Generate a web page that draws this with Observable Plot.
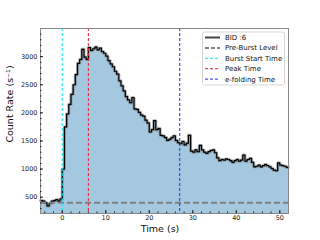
<!DOCTYPE html>
<html><head><meta charset="utf-8">
<script src="https://cdn.jsdelivr.net/npm/d3@7"></script>
<script src="https://cdn.jsdelivr.net/npm/@observablehq/plot@0.6"></script>
<style>body{margin:0;background:#fff}</style>
</head><body><div id="chart"></div>
<script>
const times = d3.range(-5, 52.01, 0.5);
const rates = [440,430,400,345,390,430,440,455,430,470,
 1000,1750,1980,2150,2330,2500,2680,2880,2950,3130,2990,2950,3160,3110,3140,3170,3120,3150,3090,3060,
 3010,2930,2870,2820,2740,2690,2570,2480,2390,2290,2230,2180,2270,2070,2060,2010,1960,1940,1870,1820,
 1660,1700,1860,1700,1720,1600,1590,1560,1510,1530,1560,1590,1510,1470,1450,1490,1430,1460,1600,1320,
 1300,1340,1310,1420,1340,1300,1280,1310,1330,1340,1290,1200,1150,1170,1160,1180,1170,1150,1120,1150,
 1170,1140,1160,1250,1140,1170,1190,1120,1040,1050,1070,1040,1060,1080,1060,1040,1010,980,970,1110,
 1070,1060,1050,1030,1030];
const preBurstLevel = 400;
const burstStartTime = 0;
const peakTime = 6;
const eFoldingTime = 27;
const xTicks = [0,10,20,30,40,50];
const yTicks = [500,1000,1500,2000,2500,3000];
const legendLabels = ["BID :6","Pre-Burst Level","Burst Start Time","Peak Time","e-folding Time"];

const data = times.map((t,i)=>({t, v: rates[i]})).filter(d=>d.v!==undefined);

const svg = Plot.plot({
  width:320, height:240, marginLeft:40, marginRight:32, marginTop:28, marginBottom:27,
  style:{fontFamily:"DejaVu Sans", fontSize:"6.5px", background:"white", color:"#222"},
  x:{domain:[-5,52]},
  y:{domain:[210,3500]},
  marks:[
    Plot.areaY(data,{x:"t", y:"v", curve:"step-after", fill:"#a5c8e1", clip:true}),
    Plot.lineY(data,{x:"t", y:"v", curve:"step-after", stroke:"#777", strokeWidth:3, strokeOpacity:0.6}),
    Plot.lineY(data,{x:"t", y:"v", curve:"step-after", stroke:"black", strokeWidth:1.2}),
    Plot.ruleY([preBurstLevel],{stroke:"#808080", strokeWidth:2, strokeDasharray:"6,3"}),
    Plot.ruleX([burstStartTime],{stroke:"#00e5ee", strokeWidth:1, strokeDasharray:"3,2"}),
    Plot.ruleX([peakTime],{stroke:"#e8212a", strokeWidth:1, strokeDasharray:"3,2"}),
    Plot.ruleX([eFoldingTime],{stroke:"#1f2ef0", strokeWidth:1, strokeDasharray:"3,2"}),
    Plot.frame({stroke:"#888"}),
    Plot.axisX({ticks:xTicks, tickSize:-3, tickPadding:5, tickFormat:"d", label:null}),
    Plot.axisX(d3.range(-4,52,2),{tickSize:-1.5, tickFormat:()=>"", label:null}),
    Plot.axisY({ticks:yTicks, tickSize:-3, tickPadding:6, tickFormat:"d", label:null}),
    Plot.axisY(d3.range(300,3500,100),{tickSize:-1.5, tickFormat:()=>"", label:null})
  ]
});
document.getElementById("chart").append(svg);
const s = d3.select(svg);
s.append("text").attr("x",160).attr("y",232).attr("text-anchor","middle")
  .attr("font-size","9.5px").attr("fill","#111").text("Time (s)");
s.append("text").attr("transform","translate(13,104) rotate(-90)").attr("text-anchor","middle")
  .attr("font-size","9.5px").attr("fill","#111").text("Count Rate (s⁻¹)");
const lg = s.append("g").attr("text-anchor","start");
lg.append("rect").attr("x",202.5).attr("y",32).attr("width",82).attr("height",53).attr("rx",2)
  .attr("fill","white").attr("fill-opacity",0.85).attr("stroke","#ccc").attr("stroke-width",0.8);
const styles = [
  {stroke:"#444", w:2, dash:null},
  {stroke:"#808080", w:2, dash:"4,2"},
  {stroke:"#00e5ee", w:1, dash:"3,2"},
  {stroke:"#e8212a", w:1, dash:"3,2"},
  {stroke:"#1f2ef0", w:1, dash:"3,2"}
];
legendLabels.forEach((lab,i)=>{
  const y = 37.5 + i*10.4;
  const l = lg.append("line").attr("x1",205).attr("x2",220).attr("y1",y).attr("y2",y)
    .attr("stroke",styles[i].stroke).attr("stroke-width",styles[i].w);
  if (styles[i].dash) l.attr("stroke-dasharray",styles[i].dash);
  lg.append("text").attr("x",225).attr("y",y).attr("dy","0.35em").attr("font-size","7px")
    .attr("text-anchor","start").attr("fill","#111").text(lab);
});
</script></body></html>
